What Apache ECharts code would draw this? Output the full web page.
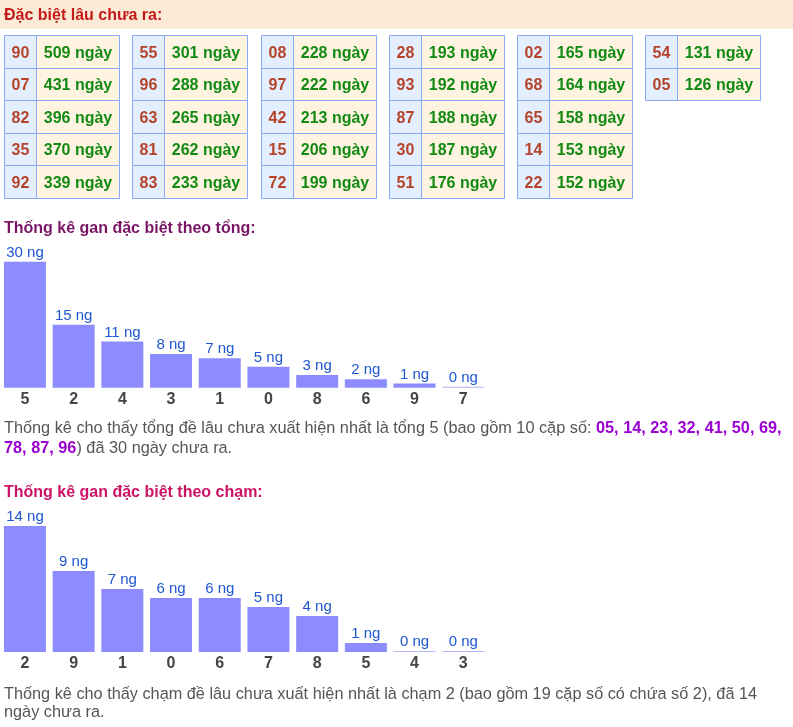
<!DOCTYPE html>
<html><head><meta charset="utf-8">
<script src="https://cdn.jsdelivr.net/npm/echarts@6/dist/echarts.min.js"></script>
<style>html,body{margin:0;padding:0;background:#fff}#c{width:793px;height:727px}</style>
</head><body><div id="c"></div>
<script>
// Table: "Đặc biệt lâu chưa ra"
const tableNums = ['90','07','82','35','92','55','96','63','81','83','08','97','42','15','72','28','93','87','30','51','02','68','65','14','22','54','05'];
const tableDays = [509,431,396,370,339,301,288,265,262,233,228,222,213,206,199,193,192,188,187,176,165,164,158,153,152,131,126];
const tableGroups = [0,1,2,3,4,5];
const tableRows = [0,1,2,3,4];
// Chart 1: theo tổng
const sumCats = ['5','2','4','3','1','0','8','6','9','7'];
const sumVals = [30,15,11,8,7,5,3,2,1,0];
// Chart 2: theo chạm
const chamCats = ['2','9','1','0','6','7','8','5','4','3'];
const chamVals = [14,9,7,6,6,5,4,1,0,0];

const FONT = 'Liberation Sans, Arial, sans-serif';
const tableData = tableNums.map((n, k) => [Math.floor(k / 5), k % 5]);

function renderCell(params, api) {
  const k = params.dataIndex;
  const c = api.coord([api.value(0), api.value(1)]);
  const s = api.size([1, 1]);
  const x0 = Math.round(c[0] - s[0] / 2) + 0.5;
  const y0 = Math.round(c[1] - s[1] / 2) + 0.5;
  const y1 = Math.round(c[1] + s[1] / 2) + 0.5;
  const h = y1 - y0;
  const numW = 32, dayW = 83;
  return {
    type: 'group',
    children: [
      {type: 'rect', shape: {x: x0, y: y0, width: numW, height: h},
       style: {fill: '#e3efff', stroke: '#88a8f8', lineWidth: 1}},
      {type: 'rect', shape: {x: x0 + numW, y: y0, width: dayW, height: h},
       style: {fill: '#fff3e1', stroke: '#88a8f8', lineWidth: 1}},
      {type: 'text', style: {text: tableNums[k], x: x0 + numW / 2, y: y0 + h / 2 + 1.5,
        align: 'center', verticalAlign: 'middle', fill: '#b5432a',
        font: 'bold 16px ' + FONT}},
      {type: 'text', style: {text: tableDays[k] + ' ngày', x: x0 + numW + dayW / 2, y: y0 + h / 2 + 1.5,
        align: 'center', verticalAlign: 'middle', fill: '#138a13',
        font: 'bold 16px ' + FONT}}
    ]
  };
}

function barColor(p) { return p.value === 0 ? '#b0b4fa' : '#8c8cff'; }

const chart = echarts.init(document.getElementById('c'), null, {renderer: 'canvas'});
chart.setOption({
  animation: false,
  backgroundColor: '#ffffff',
  textStyle: {fontFamily: FONT},
  graphic: [
    {type: 'rect', shape: {x: 0, y: 0, width: 793, height: 29}, style: {fill: '#fbead6'}, z: 0}
  ],
  title: [
    {text: 'Đặc biệt lâu chưa ra:', left: 4, top: 6.5, padding: 0,
     textStyle: {fontFamily: FONT, fontSize: 16, fontWeight: 'bold', color: '#c41a1a', lineHeight: 18}},
    {text: 'Thống kê gan đặc biệt theo tổng:', left: 4, top: 220, padding: 0,
     textStyle: {fontFamily: FONT, fontSize: 16, fontWeight: 'bold', color: '#7a1565', lineHeight: 18}},
    {text: '{n|Thống kê cho thấy tổng đề lâu chưa xuất hiện nhất là tổng 5 (bao gồm 10 cặp số: }{b|05, 14, 23, 32, 41, 50, 69,}\n{b|78, 87, 96}{n|) đã 30 ngày chưa ra.}',
     left: 4, top: 419, padding: 0,
     textStyle: {fontWeight: 'normal', rich: {
       n: {fontFamily: FONT, fontSize: 16.3, fontWeight: 'normal', color: '#555555', lineHeight: 20},
       b: {fontFamily: FONT, fontSize: 16.3, fontWeight: 'bold', color: '#9b00d2', lineHeight: 20}}}},
    {text: 'Thống kê gan đặc biệt theo chạm:', left: 4, top: 484, padding: 0,
     textStyle: {fontFamily: FONT, fontSize: 16, fontWeight: 'bold', color: '#cc1266', lineHeight: 18}},
    {text: 'Thống kê cho thấy chạm đề lâu chưa xuất hiện nhất là chạm 2 (bao gồm 19 cặp số có chứa số 2), đã 14\nngày chưa ra.',
     left: 4, top: 685, padding: 0,
     textStyle: {fontFamily: FONT, fontSize: 16.3, fontWeight: 'normal', color: '#555555', lineHeight: 18.5}}
  ],
  grid: [
    {left: 4, top: 35, width: 769.6, height: 163},
    {left: 0.6, top: 261.7, width: 487, height: 126},
    {left: 0.6, top: 526, width: 487, height: 126}
  ],
  xAxis: [
    {gridIndex: 0, type: 'category', data: tableGroups, show: false},
    {gridIndex: 1, type: 'category', data: sumCats,
     axisLine: {show: false}, axisTick: {show: false},
     axisLabel: {fontFamily: FONT, fontSize: 16, fontWeight: 'bold', color: '#444444', margin: 4, lineHeight: 16}},
    {gridIndex: 2, type: 'category', data: chamCats,
     axisLine: {show: false}, axisTick: {show: false},
     axisLabel: {fontFamily: FONT, fontSize: 16, fontWeight: 'bold', color: '#444444', margin: 4, lineHeight: 16}}
  ],
  yAxis: [
    {gridIndex: 0, type: 'category', data: tableRows, inverse: true, show: false},
    {gridIndex: 1, type: 'value', min: 0, max: 'dataMax', show: false},
    {gridIndex: 2, type: 'value', min: 0, max: 'dataMax', show: false}
  ],
  series: [
    {type: 'custom', xAxisIndex: 0, yAxisIndex: 0, data: tableData, renderItem: renderCell, clip: false, silent: true},
    {type: 'bar', xAxisIndex: 1, yAxisIndex: 1, data: sumVals, barWidth: 42, barMinHeight: 1,
     itemStyle: {color: barColor},
     label: {show: true, position: 'top', distance: 1.5, formatter: '{c} ng',
       fontFamily: FONT, fontSize: 15, color: '#1f57d0'}},
    {type: 'bar', xAxisIndex: 2, yAxisIndex: 2, data: chamVals, barWidth: 42, barMinHeight: 1,
     itemStyle: {color: barColor},
     label: {show: true, position: 'top', distance: 1.5, formatter: '{c} ng',
       fontFamily: FONT, fontSize: 15, color: '#1f57d0'}}
  ]
});
</script></body></html>
